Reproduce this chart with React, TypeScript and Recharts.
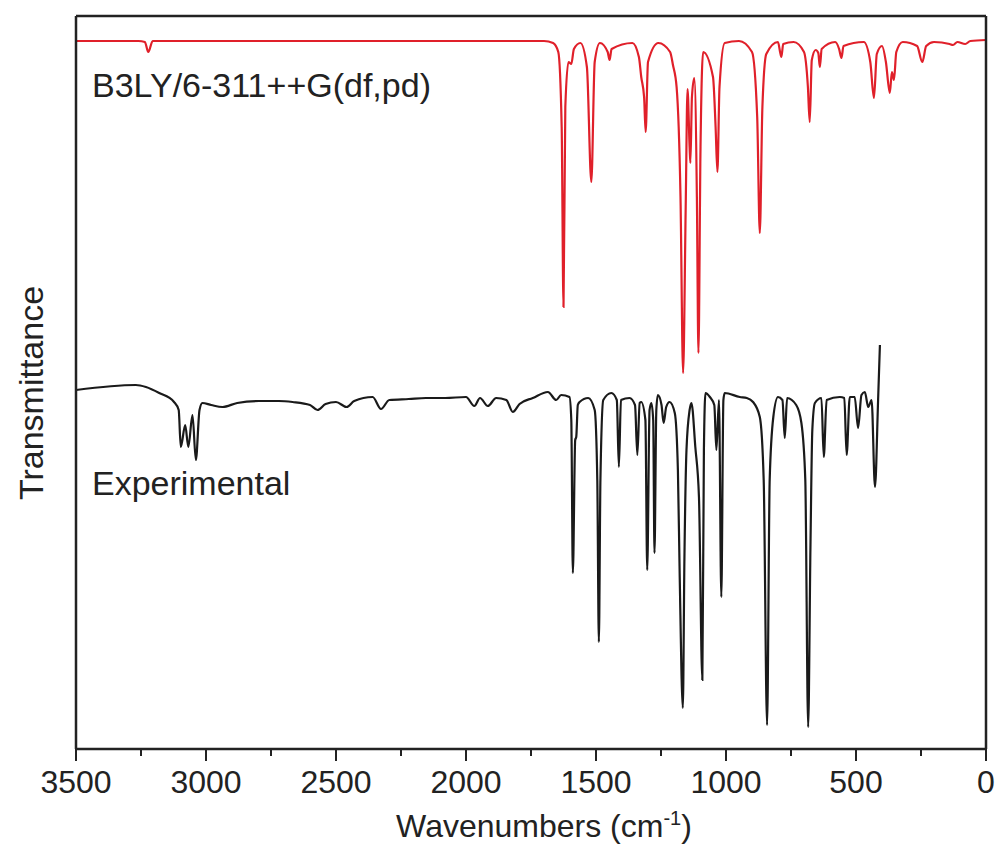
import React from 'react';
import { LineChart, Line, XAxis, YAxis } from 'recharts';

// calculated spectrum (red), [wavenumber, transmittance]
const calcWn = [
  3500, 3260, 3235, 3222, 3205, 1700, 1665, 1645, 1632, 1625, 1618, 1606, 1595, 1585, 1560,
  1535, 1518, 1505, 1485, 1455, 1448, 1440, 1360, 1335, 1326, 1315, 1309, 1300, 1260, 1215,
  1204, 1190, 1175, 1165, 1155, 1148, 1140, 1137, 1131, 1122, 1112, 1106, 1098, 1088, 1050,
  1040, 1033, 1025, 1005, 950, 900, 880, 870, 860, 845, 800, 792, 787, 780, 740,
  700, 685, 678, 670, 655, 645, 639, 632, 580, 565, 556, 548, 470, 445, 431,
  420, 400, 385, 370, 362, 354, 345, 320, 265, 245, 230, 200, 140, 127, 110,
  80, 60, 0,
];
const calcT = [
  70.6, 70.6, 70.5, 69.5, 70.6, 70.6, 70.4, 69.5, 62, 44.0, 64, 68.5, 68.3, 69.8, 70.4,
  68, 56.5, 68.5, 70.4, 69.5, 68.7, 69.8, 70.4, 69, 67.0, 65, 61.5, 68.5, 70.4, 69.5,
  68.2, 66, 55, 37.4, 54, 65.8, 60, 58.4, 65, 66.9, 55, 39.4, 60, 69.5, 67,
  62, 57.5, 66, 70.4, 70.6, 69.5, 63, 51.4, 64, 69.3, 70.5, 69.5, 69.0, 70.3, 70.5,
  69.5, 66, 62.5, 68.7, 69.7, 69.4, 68.0, 69.8, 70.5, 69.8, 68.9, 70.1, 70.5, 68.5, 64.9,
  69.3, 70.1, 68.5, 65.4, 67.5, 66.7, 69.5, 70.5, 70.1, 68.5, 70.1, 70.5, 70.3, 70.2, 70.5,
  70.3, 70.6, 70.7,
];

// experimental spectrum (black)
const expWn = [
  3500, 3270, 3231, 3180, 3123, 3105, 3097, 3080, 3068, 3052, 3039, 3025, 3014, 2980, 2937,
  2880, 2796, 2720, 2667, 2600, 2571, 2540, 2500, 2459, 2430, 2359, 2327, 2295, 2220, 2154,
  2080, 2000, 1968, 1946, 1916, 1884, 1845, 1820, 1794, 1743, 1685, 1653, 1634, 1602, 1595,
  1589, 1580, 1576, 1570, 1563, 1530, 1505, 1495, 1489, 1483, 1472, 1441, 1420, 1412, 1404,
  1371, 1350, 1341, 1332, 1326, 1310, 1303, 1294, 1287, 1280, 1275, 1268, 1262, 1248, 1240,
  1230, 1217, 1197, 1185, 1178, 1166, 1160, 1152, 1140, 1133, 1118, 1104, 1091, 1085, 1079,
  1062, 1045, 1037, 1027, 1018, 1010, 1005, 947, 920, 896, 870, 855, 842, 832, 818,
  800, 783, 774, 765, 730, 710, 695, 684, 675, 668, 658, 633, 624, 613, 562,
  545, 536, 524, 505, 492, 479, 466, 453, 440, 427, 415, 408,
];
const expT = [
  35.7, 36.2, 36.0, 35.4, 34.5, 33.7, 30.0, 32.2, 30.0, 33.2, 28.7, 33.7, 34.4, 34.2, 34.0,
  34.4, 34.6, 34.6, 34.5, 34.2, 33.7, 34.3, 34.5, 34.0, 34.6, 35.0, 33.8, 34.7, 34.8, 34.9,
  34.9, 35.0, 34.1, 34.9, 34.1, 34.9, 34.7, 33.5, 34.3, 34.9, 35.5, 34.7, 35.2, 35.0, 32.7,
  17.4, 30.7, 31.0, 34.2, 34.5, 34.9, 33.7, 26.7, 10.5, 26.7, 34.7, 35.4, 34.7, 28.0, 34.7,
  34.9, 34.2, 29.2, 34.4, 34.5, 32.7, 17.7, 33.7, 34.4, 32.7, 19.4, 33.7, 35.2, 34.2, 32.4,
  34.0, 34.5, 33.4, 27.7, 17.0, 3.9, 18.7, 29.7, 33.7, 34.4, 30.0, 25.0, 6.7, 29.7, 35.4,
  35.0, 34.2, 29.7, 34.7, 15.0, 34.7, 35.4, 35.0, 34.9, 34.5, 33.0, 26.7, 2.2, 26.7, 33.0,
  35.0, 34.7, 30.9, 34.9, 34.2, 32.4, 26.7, 2.0, 20.4, 31.7, 34.4, 34.9, 29.0, 34.7, 35.0,
  34.9, 29.2, 35.0, 35.0, 31.9, 35.2, 35.5, 34.0, 34.7, 26.0, 34.7, 40.2,
];

const xTicks = [3500, 3250, 3000, 2750, 2500, 2250, 2000, 1750, 1500, 1250, 1000, 750, 500, 250, 0];

const calcData = calcWn.map((wn, i) => ({ wn, t: calcT[i] }));
const expData = expWn.map((wn, i) => ({ wn, t: expT[i] }));

const FONT = '"Liberation Sans", Arial, sans-serif';
const AXIS = { stroke: '#222', strokeWidth: 2.5 };

const XTick = (props: any) => {
  const { x, y, payload } = props;
  const major = payload.value % 500 === 0;
  return (
    <g>
      <line x1={x} x2={x} y1={y} y2={y + (major ? 12 : 7)} stroke="#222" strokeWidth={2} />
      {major && (
        <text x={x} y={y + 44} textAnchor="middle" fontSize={32} fontFamily={FONT} fill="#222">
          {payload.value}
        </text>
      )}
    </g>
  );
};

const App = () => {
  return (
    <div style={{ position: 'absolute', left: 0, top: 0, background: '#fff' }}>
      <LineChart width={1001} height={852} margin={{ top: 15, right: 14, left: 0, bottom: 0 }}>
        <XAxis
          xAxisId="b"
          type="number"
          dataKey="wn"
          domain={[0, 3500]}
          reversed
          ticks={xTicks}
          interval={0}
          tick={<XTick />}
          tickLine={false}
          tickSize={0}
          tickMargin={0}
          height={103}
          axisLine={AXIS}
          allowDataOverflow
        />
        <XAxis
          xAxisId="t"
          orientation="top"
          type="number"
          dataKey="wn"
          domain={[0, 3500]}
          reversed
          ticks={[0, 3500]}
          tick={false}
          tickLine={false}
          height={1}
          axisLine={AXIS}
          allowDataOverflow
        />
        <YAxis
          yAxisId="l"
          type="number"
          domain={[-0.2, 73.1]}
          tick={false}
          tickLine={false}
          width={76}
          axisLine={AXIS}
          allowDataOverflow
        />
        <YAxis
          yAxisId="r"
          orientation="right"
          type="number"
          domain={[-0.2, 73.1]}
          ticks={[0]}
          tick={false}
          tickLine={false}
          width={1}
          axisLine={AXIS}
          allowDataOverflow
        />
        <Line
          xAxisId="t"
          yAxisId="r"
          data={calcData}
          dataKey="t"
          type="monotoneX"
          stroke="#e0202a"
          strokeWidth={2.2}
          dot={false}
          isAnimationActive={false}
        />
        <Line
          xAxisId="b"
          yAxisId="l"
          data={expData}
          dataKey="t"
          type="monotoneX"
          stroke="#1a1a1a"
          strokeWidth={2.2}
          dot={false}
          isAnimationActive={false}
        />
        <text x={92} y={97} fontSize={34} fontFamily={FONT} fill="#222">
          B3LY/6-311++G(df,pd)
        </text>
        <text x={92} y={495} fontSize={34} fontFamily={FONT} fill="#222">
          Experimental
        </text>
        <text
          x={43}
          y={393}
          transform="rotate(-90, 43, 393)"
          textAnchor="middle"
          fontSize={34}
          fontFamily={FONT}
          fill="#222"
        >
          Transmittance
        </text>
        <text x={544} y={837} textAnchor="middle" fontSize={32} fontFamily={FONT} fill="#222">
          Wavenumbers (cm
          <tspan fontSize={20} dy={-12}>-1</tspan>
          <tspan dy={12}>)</tspan>
        </text>
      </LineChart>
    </div>
  );
};

export default App;
